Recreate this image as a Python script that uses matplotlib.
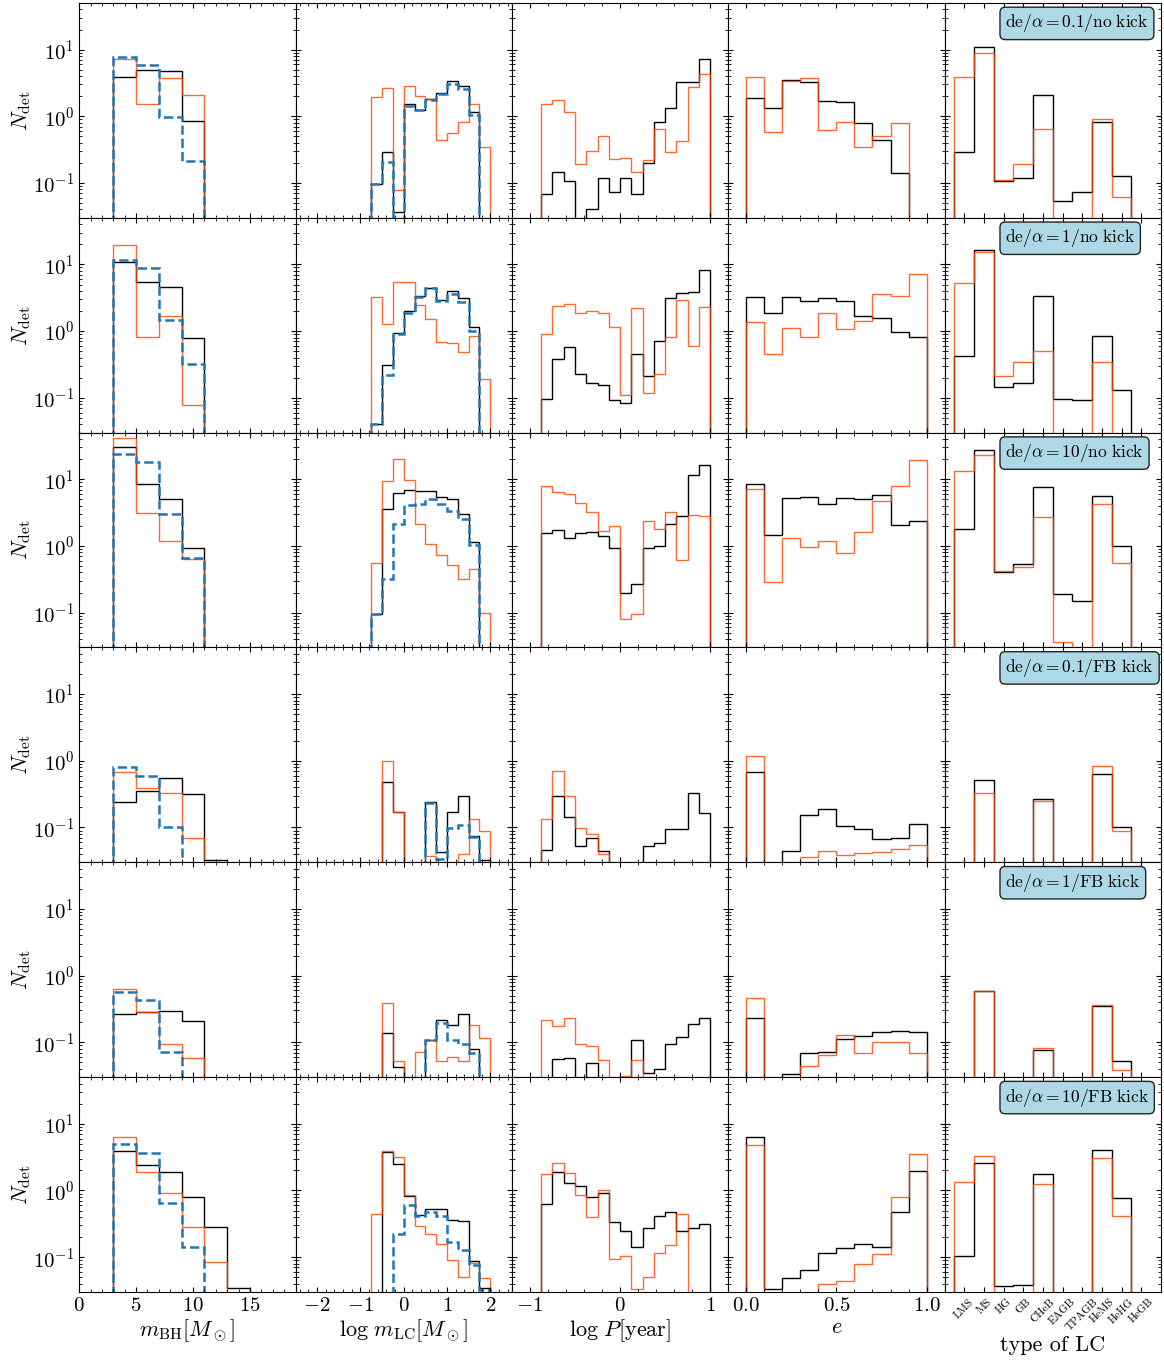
import numpy as np
import matplotlib
matplotlib.use('Agg')
import matplotlib.pyplot as plt
from matplotlib.ticker import NullLocator, AutoMinorLocator

plt.rcParams['font.family'] = 'serif'
plt.rcParams['font.serif'] = ['cmr10']
plt.rcParams['mathtext.fontset'] = 'cm'
plt.rcParams['axes.formatter.use_mathtext'] = True

# bin edges of every column
mbh_edges = [3, 5, 7, 9, 11, 13, 15]
mlc_edges = np.arange(-0.75, 2.01, 0.25)
logp_edges = np.arange(-0.875, 1.001, 0.125)
ecc_edges = np.arange(0.0, 1.01, 0.1)
type_edges = np.arange(-0.5, 8.6, 1.0)

type_names = ['LMS', 'MS', 'HG', 'GB', 'CHeB', 'EAGB', 'TPAGB', 'HeMS', 'HeHG', 'HeGB']

row_labels = [r'$\rm de/\alpha = 0.1/no\ kick$', r'$\rm de/\alpha = 1/no\ kick$',
              r'$\rm de/\alpha = 10/no\ kick$', r'$\rm de/\alpha = 0.1/FB\ kick$',
              r'$\rm de/\alpha = 1/FB\ kick$', r'$\rm de/\alpha = 10/FB\ kick$']

# m_BH
mbh_black = [[3.9, 4.97, 4.8, 0.86, 0, 0],
             [10.9, 5.4, 4.6, 0.8, 0, 0],
             [30.7, 8.4, 5.1, 0.94, 0, 0],
             [0.24, 0.35, 0.545, 0.32, 0.032, 0],
             [0.27, 0.28, 0.29, 0.21, 0, 0],
             [3.9, 2.44, 1.9, 0.81, 0.287, 0.034]]
mbh_orange = [[7.2, 1.53, 3.8, 2.08, 0, 0],
              [19.4, 0.82, 1.69, 0.077, 0, 0],
              [40.9, 3.07, 1.19, 0.63, 0, 0],
              [0.69, 0.386, 0.33, 0.069, 0, 0],
              [0.64, 0.285, 0.095, 0.058, 0, 0],
              [6.25, 1.86, 0.91, 0.28, 0.085, 0]]
mbh_blue = [[7.7, 5.8, 0.98, 0.215, 0, 0],
            [11.7, 8.7, 1.48, 0.325, 0, 0],
            [23.9, 17.9, 3.04, 0.67, 0, 0],
            [0.8, 0.6, 0.1, 0, 0, 0],
            [0.57, 0.43, 0.072, 0, 0, 0],
            [4.97, 3.65, 0.64, 0.14, 0, 0]]

# log m_LC
mlc_black = [[0.097, 0.29, 0.037, 1.55, 1.24, 1.79, 2.2, 3.4, 2.84, 1.15, 0],
             [0.041, 0.31, 0.95, 1.99, 3.4, 4.43, 2.94, 3.95, 3.1, 1.15, 0],
             [0.097, 3.6, 6.3, 6.9, 6.77, 6.77, 5.5, 5.1, 3.04, 1.13, 0],
             [0, 0.48, 0.168, 0, 0, 0.24, 0.043, 0.17, 0.30, 0.075, 0.032],
             [0, 0.14, 0.043, 0, 0, 0.11, 0.215, 0.18, 0.27, 0.08, 0],
             [0, 3.73, 2.5, 0.83, 0.43, 0.53, 0.53, 0.356, 0.345, 0.087, 0.034]]
mlc_orange = [[1.94, 2.68, 0.079, 2.87, 2.01, 1.84, 0.44, 0.56, 0.81, 1.55, 0.35],
              [3.2, 1.29, 5.4, 5.4, 2.5, 1.53, 0.69, 0.67, 0.49, 0.84, 0.19],
              [0.56, 9.3, 20.3, 9.9, 2.1, 1.06, 0.73, 0.52, 0.32, 0.45, 0.1],
              [0, 0.98, 0.168, 0, 0, 0.037, 0, 0, 0.04, 0.133, 0.089],
              [0, 0.386, 0.052, 0, 0.072, 0.107, 0.052, 0.061, 0.053, 0.18, 0.116],
              [0.44, 3.95, 3.2, 0.86, 0.29, 0.225, 0.16, 0.092, 0.051, 0.082, 0.049]]
mlc_blue = [[0.097, 0.206, 0, 1.41, 1.24, 1.77, 2.15, 3.07, 2.59, 1.05, 0],
            [0.04, 0.218, 0.92, 1.9, 3.3, 4.43, 2.8, 3.6, 2.7, 1.02, 0],
            [0.097, 0.32, 2.1, 4.1, 4.2, 5.0, 4.2, 3.3, 2.53, 1.02, 0],
            [0, 0, 0, 0, 0, 0.235, 0.034, 0.098, 0.11, 0.072, 0],
            [0, 0, 0, 0, 0, 0.107, 0.197, 0.107, 0.093, 0.069, 0],
            [0, 0, 0.223, 0.61, 0.41, 0.47, 0.42, 0.168, 0.128, 0.077, 0.032]]

# log P
logp_black = [[0.069, 0.146, 0.106, 0, 0.041, 0.12, 0.072, 0.12, 0.069, 0.2, 0.81, 1.35, 3.25, 3.3, 7.2],
              [0.095, 0.386, 0.57, 0.225, 0.164, 0.158, 0.092, 0.085, 0.46, 0.215, 0.71, 3.15, 3.73, 3.82, 8.3],
              [1.55, 1.75, 1.32, 1.56, 1.6, 1.39, 0.92, 0.194, 0.265, 0.92, 1.01, 2.13, 2.84, 11.5, 16.6],
              [0.046, 0.30, 0.143, 0.053, 0.069, 0.044, 0, 0, 0, 0.053, 0.058, 0.094, 0.094, 0.33, 0.164],
              [0, 0.057, 0.058, 0, 0.049, 0, 0, 0, 0.11, 0.035, 0.04, 0.093, 0.12, 0.19, 0.23],
              [0.625, 1.92, 1.29, 1.17, 0.81, 0.93, 0.34, 0.25, 0.14, 0.27, 0.42, 0.47, 0.245, 0.27, 0.31]]
logp_orange = [[1.53, 1.73, 1.15, 0.19, 0.30, 0.50, 0.225, 0.24, 0.146, 0.223, 0.65, 0.29, 0.42, 2.71, 4.33],
               [0.89, 2.39, 2.56, 1.88, 2.03, 1.88, 1.17, 0.11, 2.23, 0.116, 0.225, 0.81, 2.97, 0.6, 2.28],
               [8.0, 6.5, 5.97, 4.48, 3.18, 1.67, 1.99, 0.08, 0.097, 2.39, 1.77, 3.25, 0.62, 2.9, 2.84],
               [0.133, 0.71, 0.30, 0.098, 0.081, 0.04, 0, 0, 0, 0, 0, 0, 0, 0, 0],
               [0.213, 0.177, 0.233, 0.095, 0.088, 0.054, 0, 0.031, 0.054, 0, 0, 0, 0, 0, 0],
               [1.79, 2.59, 1.8, 0.86, 0.40, 1.02, 0.094, 0.105, 0.033, 0.051, 0.116, 0.153, 0.45, 0, 0]]

# e
ecc_black = [[1.86, 1.35, 3.48, 3.22, 1.69, 1.66, 0.8, 0.44, 0.143, 0],
             [3.22, 1.9, 3.29, 2.8, 3.1, 2.8, 1.66, 1.56, 0.97, 0.83],
             [8.5, 1.48, 5.27, 5.4, 4.24, 5.2, 5.09, 5.9, 2.06, 2.33],
             [0.67, 0, 0.045, 0.156, 0.186, 0.107, 0.095, 0.067, 0.069, 0.112],
             [0.228, 0, 0.033, 0.069, 0.072, 0.114, 0.124, 0.141, 0.146, 0.141],
             [6.3, 0.033, 0.049, 0.065, 0.116, 0.135, 0.158, 0.143, 0.47, 1.99]]
ecc_orange = [[3.95, 0.58, 3.4, 3.69, 0.62, 0.82, 0.35, 0.51, 0.78, 0],
              [1.35, 0.45, 1.11, 0.83, 1.88, 1.06, 1.44, 3.6, 3.37, 7.1],
              [7.26, 0.29, 1.32, 0.98, 1.17, 0.78, 1.64, 4.75, 7.8, 19.2],
              [1.17, 0, 0, 0.036, 0.044, 0.039, 0.042, 0.043, 0.0475, 0.055],
              [0.46, 0, 0, 0.044, 0.064, 0.13, 0.069, 0.102, 0.1, 0.07],
              [4.75, 0, 0, 0, 0.04, 0.044, 0.078, 0.11, 0.79, 3.57]]

# type of LC
type_black = [[0.29, 11.0, 0.107, 0.12, 2.06, 0.053, 0.073, 0.83, 0.126],
              [0.43, 16.7, 0.144, 0.166, 3.4, 0.095, 0.092, 0.85, 0.133],
              [1.81, 27.4, 0.41, 0.545, 7.69, 0.19, 0.151, 5.57, 1.01],
              [0, 0.51, 0, 0, 0.265, 0, 0, 0.63, 0.1],
              [0, 0.58, 0, 0, 0.077, 0, 0, 0.355, 0.053],
              [0.105, 2.56, 0.037, 0.038, 1.77, 0, 0, 4.09, 0.77]]
type_orange = [[3.86, 8.8, 0.11, 0.19, 0.65, 0, 0, 0.91, 0.061],
               [5.33, 15.3, 0.213, 0.344, 0.50, 0, 0, 0.34, 0],
               [13.5, 23.3, 0.42, 0.49, 2.74, 0.036, 0, 4.19, 0.56],
               [0, 0.333, 0, 0, 0.253, 0, 0, 0.83, 0.09],
               [0, 0.58, 0, 0, 0.083, 0, 0, 0.36, 0.038],
               [1.32, 3.25, 0, 0, 1.26, 0, 0, 3.11, 0.41]]

mbh_ticks = [0, 5, 10, 15]
mlc_ticks = [-2, -1, 0, 1, 2]
logp_ticks = [-1, 0, 1]
ecc_ticks = [0.0, 0.5, 1.0]

columns = [(mbh_edges, mbh_black, mbh_orange, mbh_blue, (0, 19), mbh_ticks, r'$m_{\rm BH}[M_\odot]$'),
           (mlc_edges, mlc_black, mlc_orange, mlc_blue, (-2.5, 2.5), mlc_ticks, r'$\log\, m_{\rm LC}[M_\odot]$'),
           (logp_edges, logp_black, logp_orange, None, (-1.2, 1.2), logp_ticks, r'$\log\, P[{\rm year}]$'),
           (ecc_edges, ecc_black, ecc_orange, None, (-0.1, 1.1), ecc_ticks, r'$e$'),
           (type_edges, type_black, type_orange, None, (-1, 10), None, 'type of LC')]

LOW = 1e-5


def draw(ax, edges, vals, **kw):
    v = np.array(vals, dtype=float)
    v[v <= 0] = LOW
    ax.stairs(v, edges, baseline=LOW, **kw)


fig, axes = plt.subplots(6, 5, figsize=(11.64, 13.61), dpi=100, sharex='col', sharey=True)
plt.subplots_adjust(left=0.068, right=0.9974, top=0.9978, bottom=0.0507, wspace=0, hspace=0)

for i in range(6):
    for j, (edges, blk, org, blu, xl, ticks, xlab) in enumerate(columns):
        ax = axes[i, j]
        draw(ax, edges, blk[i], color='black', lw=1.0)
        draw(ax, edges, org[i], color='orangered', lw=1.0, alpha=0.8)
        if blu is not None:
            draw(ax, edges, blu[i], color='tab:blue', lw=1.8, ls='--')
        ax.set_yscale('log')
        ax.set_ylim(0.03, 50)
        ax.set_xlim(*xl)
        ax.tick_params(which='both', direction='in', top=True, right=True, labelsize=15)
        if ticks is not None:
            ax.set_xticks(ticks)
            ax.xaxis.set_minor_locator(AutoMinorLocator())
        else:
            ax.set_xticks(range(10))
            ax.set_xticklabels(type_names, rotation=45, fontsize=8)
            ax.xaxis.set_minor_locator(NullLocator())
            ax.text(0.28, 0.905, row_labels[i], transform=ax.transAxes, ha='left', va='center',
                    fontsize=12.5, bbox=dict(boxstyle='round,pad=0.3', facecolor='lightblue',
                                             edgecolor='#222222', lw=1))
        if j == 0:
            ax.set_ylabel(r'$N_{\rm det}$', fontsize=16, labelpad=0)
        if i == 5:
            ax.set_xlabel(xlab, fontsize=16, labelpad=2)

fig.savefig('out.png', dpi=100)
